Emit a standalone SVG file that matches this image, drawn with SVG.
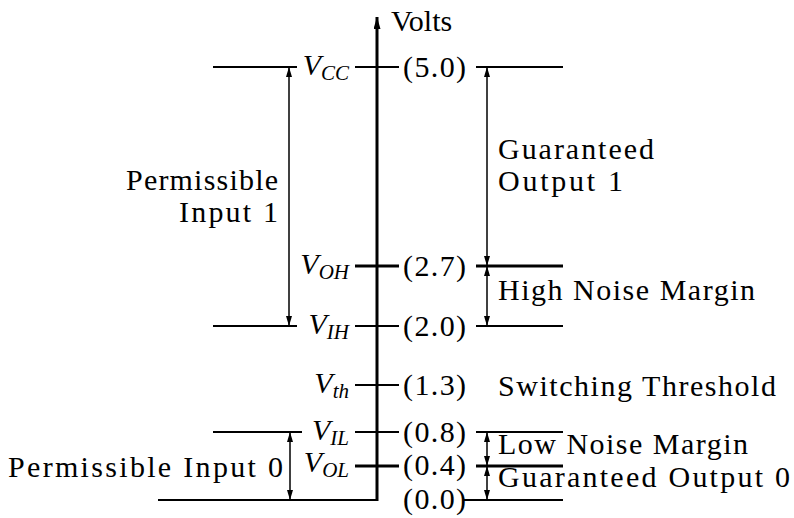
<svg xmlns="http://www.w3.org/2000/svg" width="794" height="518" viewBox="0 0 794 518" font-family="'Liberation Serif', 'DejaVu Serif', serif">
<style>
  text { font-size: 30px; fill: #000; }
  .v { font-style: italic; }
  .sub { font-size: 21px; }
  .ln { stroke: #000; stroke-width: 2; fill: none; }
  .thick { stroke: #000; stroke-width: 3; fill: none; }
  .arr { stroke: #000; stroke-width: 1.5; fill: none; marker-start: url(#ah); marker-end: url(#ah); }
</style>
<defs>
  <marker id="ah" viewBox="0 0 10 6" refX="10" refY="3" markerWidth="10" markerHeight="6" markerUnits="userSpaceOnUse" orient="auto-start-reverse">
    <path d="M0,0 L10,3 L0,6 z" fill="#000"/>
  </marker>
  <marker id="axh" viewBox="0 0 12 7" refX="12" refY="3.5" markerWidth="12" markerHeight="7" markerUnits="userSpaceOnUse" orient="auto">
    <path d="M0,0 L12,3.5 L0,7 z" fill="#000"/>
  </marker>
</defs>
<rect width="794" height="518" fill="#fff"/>

<g id="axis">
  <line x1="377" y1="501" x2="377" y2="17" class="thick" marker-end="url(#axh)"/>
  <text x="391" y="31" font-family="Liberation Serif">Volts</text>
</g>

<g id="vcc">
  <line class="ln" x1="213" y1="67" x2="297" y2="67"/>
  <line class="ln" x1="355" y1="67" x2="399" y2="67"/>
  <line class="ln" x1="476" y1="67" x2="563" y2="67"/>
  <text class="v" x="349" y="75" text-anchor="end">V<tspan class="sub" dy="5">CC</tspan></text>
  <text x="403" y="77" textLength="63">(5.0)</text>
</g>

<g id="voh">
  <line class="thick" x1="355" y1="266" x2="399" y2="266"/>
  <line class="thick" x1="476" y1="266" x2="563" y2="266"/>
  <text class="v" x="349" y="274" text-anchor="end">V<tspan class="sub" dy="5">OH</tspan></text>
  <text x="403" y="276" textLength="63">(2.7)</text>
</g>

<g id="vih">
  <line class="ln" x1="213" y1="326" x2="297" y2="326"/>
  <line class="ln" x1="355" y1="326" x2="399" y2="326"/>
  <line class="ln" x1="476" y1="326" x2="563" y2="326"/>
  <text class="v" x="349" y="334" text-anchor="end">V<tspan class="sub" dy="5">IH</tspan></text>
  <text x="403" y="336" textLength="63">(2.0)</text>
</g>

<g id="vth">
  <line class="ln" x1="355" y1="385" x2="399" y2="385"/>
  <text class="v" x="349" y="393" text-anchor="end">V<tspan class="sub" dy="5">th</tspan></text>
  <text x="403" y="395" textLength="63">(1.3)</text>
  <text x="498" y="396" textLength="278">Switching Threshold</text>
</g>

<g id="vil">
  <line class="ln" x1="213" y1="432" x2="302" y2="432"/>
  <line class="ln" x1="355" y1="432" x2="399" y2="432"/>
  <line class="ln" x1="476" y1="432" x2="563" y2="432"/>
  <text class="v" x="349" y="440" text-anchor="end">V<tspan class="sub" dy="5">IL</tspan></text>
  <text x="403" y="442" textLength="63">(0.8)</text>
</g>

<g id="vol">
  <line class="thick" x1="355" y1="466" x2="399" y2="466"/>
  <line class="thick" x1="476" y1="466" x2="563" y2="466"/>
  <text class="v" x="349" y="472" text-anchor="end">V<tspan class="sub" dy="5">OL</tspan></text>
  <text x="403" y="475" textLength="63">(0.4)</text>
</g>

<g id="zero">
  <line class="ln" x1="158" y1="500" x2="377" y2="500"/>
  <line class="ln" x1="463" y1="500" x2="563" y2="500"/>
  <text x="403" y="509" textLength="63">(0.0)</text>
</g>

<g id="labels">
  <text x="278" y="190" text-anchor="end" textLength="152">Permissible</text>
  <text x="278" y="222" text-anchor="end" textLength="99">Input 1</text>
  <text x="498" y="159" textLength="156">Guaranteed</text>
  <text x="498" y="191" textLength="125">Output 1</text>
  <text x="498" y="300" textLength="257">High Noise Margin</text>
  <text x="498" y="454" textLength="250">Low Noise Margin</text>
  <text x="8" y="477" textLength="275">Permissible Input 0</text>
  <text x="498" y="487" textLength="292">Guaranteed Output 0</text>
</g>

<g id="connectors">
  <line class="arr" x1="289" y1="67" x2="289" y2="326"/>
  <line class="arr" x1="487" y1="67" x2="487" y2="266"/>
  <line class="arr" x1="487" y1="266" x2="487" y2="326"/>
  <line class="arr" x1="290" y1="432" x2="290" y2="500"/>
  <line class="arr" x1="487" y1="432" x2="487" y2="466"/>
  <line class="arr" x1="487" y1="466" x2="487" y2="500"/>
</g>
</svg>
